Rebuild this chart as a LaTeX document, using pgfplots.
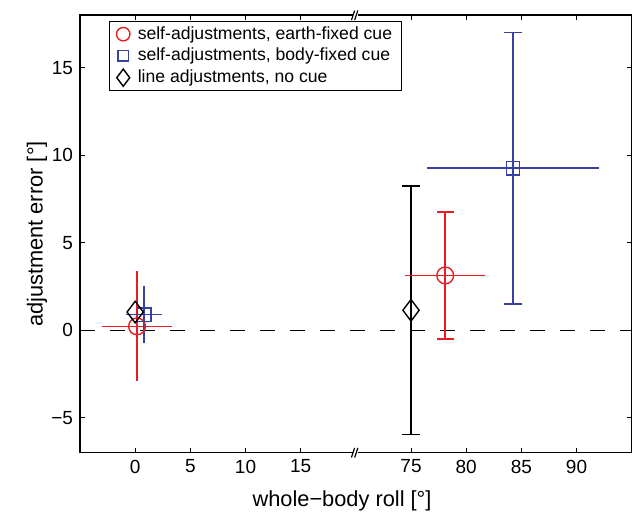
\documentclass[border=0pt]{standalone}
\usepackage{pgfplots}
\pgfplotsset{compat=1.18}
\usepackage{fontspec}
\setmainfont{Liberation Sans}

\definecolor{cred}{RGB}{230,30,34}
\definecolor{cblue}{RGB}{55,65,165}

\begin{document}
\begin{tikzpicture}
\begin{axis}[
    scale only axis,
    width=275.85pt,
    height=218.7pt,
    % broken x axis: values right of the break are stored as x-50
    xmin=-5, xmax=45,
    ymin=-7, ymax=18,
    xtick={0,5,10,15,25,30,35,40},
    xticklabels={0,5,10,15,75,80,85,90},
    ytick={-5,0,5,10,15},
    yticklabels={−5,0,5,10,15},
    tick align=inside,
    major tick length=2.5pt,
    tick style={black, line width=0.5pt},
    axis line style={black, line width=0.8pt},
    tick label style={font=\fontsize{9.5}{11}\selectfont},
    label style={font=\fontsize{10.9}{13}\selectfont},
    xlabel={whole−body roll [°]},
    ylabel={adjustment error [°]},
    xlabel style={at={(axis description cs:0.475,-0.11)}, anchor=center},
    ylabel style={at={(axis description cs:-0.078,0.5)}, anchor=center},
    clip=false,
    legend cell align=left,
    legend image code/.code={%
      \draw[#1, every mark/.append style={scale=0.8}] plot coordinates {(0pt,0pt)};},
    legend style={
      draw=black, line width=0.5pt,
      at={(0.0526,0.987)}, anchor=north west,
      font=\fontsize{8.8}{10}\selectfont,
      inner xsep=3.5pt, inner ysep=1pt,
      nodes={inner sep=1.4pt},
      row sep=0.2pt,
      /tikz/every odd column/.append style={column sep=2.5pt},
    },
]

  % zero line
  \addplot[black, line width=0.6pt, dash pattern=on 7.5pt off 7.5pt, forget plot]
    coordinates {(-5,0) (45,0)};

  % ---- upright (0 deg) ----
  % self-adjustments, earth-fixed cue
  \addplot[only marks, cred, mark=o, mark size=4.2pt, line width=0.7pt,
    error bars/.cd, x dir=both, x explicit, y dir=both, y explicit, error mark=none,
    error bar style={draw=cred, line width=0.75pt}]
    coordinates {(0.17,0.22) +- (3.15,3.14)};
  % self-adjustments, body-fixed cue
  \addplot[only marks, cblue, mark=square, mark size=3.3pt, line width=0.7pt,
    error bars/.cd, x dir=both, x explicit, y dir=both, y explicit, error mark=none,
    error bar style={draw=cblue, line width=0.75pt}]
    coordinates {(0.82,0.89) +- (1.65,1.61)};
  % line adjustments, no cue
  \addplot[only marks, black, mark=diamond, mark size=5.4pt, line width=0.7pt]
    coordinates {(0,1.04)};

  \legend{{self-adjustments, earth-fixed cue},
          {self-adjustments, body-fixed cue},
          {line adjustments, no cue}}

  % ---- tilted (right of the break, x stored as roll-50) ----
  \addplot[only marks, black, mark=diamond, mark size=5.4pt, line width=0.7pt, forget plot,
    error bars/.cd, y dir=both, y explicit, error mark=-,
    error bar style={draw=black, line width=0.75pt},
    error mark options={draw=black, mark size=4.3pt, line width=0.75pt, rotate=90}]
    coordinates {(25,1.14) +- (0,7.1)};

  \addplot[cred, line width=0.75pt, forget plot] coordinates {(24.45,3.13) (31.75,3.13)};
  \addplot[only marks, cred, mark=o, mark size=4.2pt, line width=0.7pt, forget plot,
    error bars/.cd, y dir=both, y explicit, error mark=-,
    error bar style={draw=cred, line width=0.75pt},
    error mark options={draw=cred, mark size=4.3pt, line width=0.75pt, rotate=90}]
    coordinates {(28.1,3.13) +- (0,3.64)};

  \addplot[cblue, line width=0.75pt, forget plot] coordinates {(26.44,9.26) (42.04,9.26)};
  \addplot[only marks, cblue, mark=square, mark size=3.3pt, line width=0.7pt, forget plot,
    error bars/.cd, y dir=both, y explicit, error mark=-,
    error bar style={draw=cblue, line width=0.75pt},
    error mark options={draw=cblue, mark size=4.5pt, line width=0.75pt, rotate=90}]
    coordinates {(34.24,9.26) +- (0,7.77)};

  % axis break marks
  \fill[white] (axis cs:20,18) ++(-1.6pt,-0.6pt) rectangle ++(2.6pt,1.2pt);
  \draw[black, line width=0.6pt] (axis cs:20,18) ++(-2.2pt,-2.4pt) -- ++(1.6pt,4.8pt);
  \draw[black, line width=0.6pt] (axis cs:20,18) ++(-0.6pt,-2.4pt) -- ++(1.6pt,4.8pt);
  \fill[white] (axis cs:20,-7) ++(-1.6pt,-0.6pt) rectangle ++(2.6pt,1.2pt);
  \draw[black, line width=0.6pt] (axis cs:20,-7) ++(-2.2pt,-2.4pt) -- ++(1.6pt,4.8pt);
  \draw[black, line width=0.6pt] (axis cs:20,-7) ++(-0.6pt,-2.4pt) -- ++(1.6pt,4.8pt);
\end{axis}
\path (current axis.south west) ++(-40pt,-29.15pt);
\path (current axis.north east) ++(0.65pt,7.65pt);
\end{tikzpicture}
\end{document}
